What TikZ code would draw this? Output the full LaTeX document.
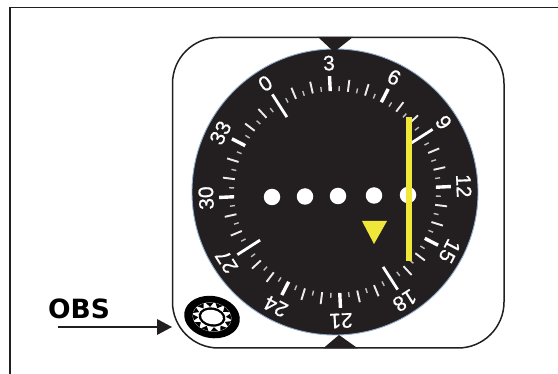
\documentclass[tikz,border=0pt]{standalone}
\usepackage{fontspec}
\usetikzlibrary{calc}
\setmainfont{Liberation Sans}
\newfontfamily\obsfont{DejaVu Sans}
\newfontfamily\dialfont[RawFeature={embolden=0.7}]{Liberation Sans}
\definecolor{dialblack}{HTML}{231F20}
\definecolor{needle}{HTML}{EFE83A}
\definecolor{halo}{HTML}{8FACCF}
\tikzset{
  tickmajor/.style={white,line width=3.4pt},
  tickmed/.style={white!92!black,line width=1.9pt},
  tickmin/.style={white!75!black,line width=1.4pt},
  ticklong/.style={white,line width=2.8pt},
  dot/.style={circle,fill=white,minimum size=16.5pt,inner sep=0pt},
  scalelabel/.style={white,font=\dialfont\fontsize{21}{21}\selectfont,inner sep=0pt},
  marker/.style={fill=dialblack,draw=none}
}
\begin{document}
\begin{tikzpicture}[x=1pt,y=-1pt]
\useasboundingbox (0,0) rectangle (558,374);
\fill[white] (0,0) rectangle (558,374);
\draw[line width=1.8pt,dialblack] (10,7.5) -- (558,7.5);
\draw[line width=1.8pt,dialblack] (10,7.5) -- (10,374);
\draw[line width=1.5pt,dialblack,rounded corners=46pt] (172.5,37.5) rectangle (504,348);
% dial
\coordinate (c) at (335,192);
\fill[dialblack,draw=halo,line width=0.9pt] (c) circle[radius=143];
% ticks
\foreach \d in {0,5,...,355}{
  \pgfmathsetmacro{\a}{-90+\d-32.7}
  \pgfmathtruncatemacro{\mthirty}{mod(\d,30)==0}
  \pgfmathtruncatemacro{\mninety}{mod(\d,90)==0}
  \pgfmathtruncatemacro{\mten}{mod(\d,10)==0}
  \ifnum\mninety=1
    \draw[ticklong] ($(c)+(\a:89)$) -- ($(c)+(\a:116)$);
  \else\ifnum\mthirty=1
    \draw[tickmajor] ($(c)+(\a:101)$) -- ($(c)+(\a:116)$);
  \else\ifnum\mten=1
    \draw[tickmed] ($(c)+(\a:101)$) -- ($(c)+(\a:113)$);
  \else
    \draw[tickmin] ($(c)+(\a:101)$) -- ($(c)+(\a:106)$);
  \fi\fi\fi
}
% labels
\foreach \t/\d in {0/0,3/30,6/60,9/90,12/120,15/150,18/180,21/210,24/240,27/270,30/300,33/330}{
  \pgfmathsetmacro{\a}{-90+\d-32.7}
  \pgfmathsetmacro{\r}{-(\d-32.7)}
  \node[scalelabel,rotate=\r] (L\t) at ($(c)+(\a:129)$) {\t};
}
% dots
\node[dot] (d1) at (272,197) {};
\node[dot] (d2) at (305,196.5) {};
\node[dot] (d3) at (338,196) {};
\node[dot] (d4) at (374,195.5) {};
\node[dot] (d5) at (408,195) {};
% needle
\fill[needle] (406,117) rectangle (412,261);
\fill[needle] (362,221) -- (387,221) -- (374,244) -- cycle;
% markers
\fill[marker] (318,37) -- (353,37) -- (334,52) -- cycle;
\fill[marker] (323,348.5) -- (358,348.5) -- (339,335) -- cycle;
% knob
\coordinate (k) at (212,317);
\fill[black,rotate around={-10:(k)}] (k) ellipse[x radius=28,y radius=21];
\fill[white,rotate around={-10:(k)}] (k) ellipse[x radius=19.5,y radius=14.5];
\foreach \q in {15,45,...,345}{
  \fill[black,rotate around={-10:(k)}] ($(k)+(\q+12:19.5 and 14.5)$) -- ($(k)+(\q-12:19.5 and 14.5)$) -- ($(k)+(\q:14 and 10)$) -- cycle;
}
\fill[black,rotate around={-10:(k)}] (k) ellipse[x radius=13.5,y radius=9.5];
\fill[white,rotate around={-10:(k)}] (k) ellipse[x radius=11,y radius=7.2];
% OBS
\node[font=\obsfont\bfseries\fontsize{26.5}{26.5}\selectfont,inner sep=0pt] (obs) at (79,309) {OBS};
\coordinate (arrowstart) at (58,327);
\coordinate (arrowend) at (172,327);
\draw[line width=2.2pt,dialblack] (arrowstart) -- (157,327);
\fill[dialblack] (157,319) -- (arrowend) -- (157,335) -- cycle;
\end{tikzpicture}
\end{document}
